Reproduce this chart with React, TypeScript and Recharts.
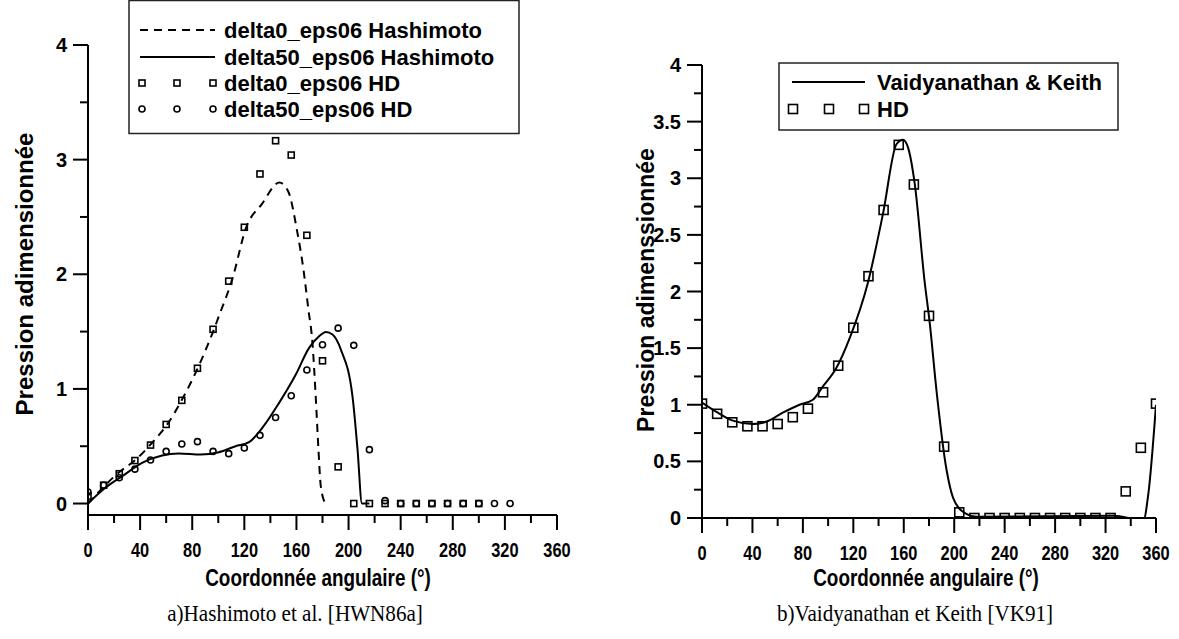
import React from 'react';
import { ComposedChart, Line, Scatter, XAxis, YAxis } from 'recharts';

// ---------- axes ----------
const angleTicks = [0, 20, 40, 60, 80, 100, 120, 140, 160, 180, 200, 220, 240, 260, 280, 300, 320, 340, 360];
const leftPressureTicks = [0, 0.5, 1, 1.5, 2, 2.5, 3, 3.5, 4];
const rightPressureTicks = [0, 0.25, 0.5, 0.75, 1, 1.25, 1.5, 1.75, 2, 2.25, 2.5, 2.75, 3, 3.25, 3.5, 3.75, 4];

// ---------- a) Hashimoto ----------
const delta0HashimotoAngle = [0, 23.6, 36.4, 49.2, 60.8, 72.3, 83.8, 96.7, 101.3, 110.3, 121.8, 133.3, 146.9, 153.8, 160.3, 165.4, 169.2, 172.3, 174.9, 176.9, 178.7, 182.6];
const delta0HashimotoPressure = [0, 0.27, 0.38, 0.53, 0.69, 0.91, 1.17, 1.52, 1.66, 1.94, 2.42, 2.61, 2.8, 2.72, 2.39, 2.04, 1.69, 1.4, 0.91, 0.47, 0.15, -0.01];

const delta50HashimotoAngle = [0, 13.3, 26.2, 41.5, 56.9, 69.7, 86.4, 100.5, 113.3, 123.6, 133.8, 146.7, 159.5, 169.7, 177.4, 182.6, 187.7, 194.1, 203, 206.9, 210.3, 216];
const delta50HashimotoPressure = [0, 0.137, 0.238, 0.355, 0.419, 0.436, 0.427, 0.448, 0.5, 0.535, 0.66, 0.878, 1.125, 1.358, 1.459, 1.497, 1.474, 1.343, 0.936, 0.471, 0, 0];

const delta0HdAngle = [0, 12, 24, 36, 48, 60, 72, 84, 96, 108, 120, 132, 144, 156, 168, 180, 192, 204, 216, 228, 240, 252, 264, 276, 288, 300];
const delta0HdPressure = [0.065, 0.16, 0.26, 0.375, 0.51, 0.69, 0.9, 1.18, 1.52, 1.94, 2.41, 2.875, 3.165, 3.04, 2.34, 1.245, 0.32, 0, 0, 0, 0, 0, 0, 0, 0, 0];

const delta50HdAngle = [0, 12, 24, 36, 48, 60, 72, 84, 96, 108, 120, 132, 144, 156, 168, 180, 192, 204, 216, 228, 240, 252, 264, 276, 288, 300, 312, 324];
const delta50HdPressure = [0.1, 0.16, 0.225, 0.3, 0.38, 0.455, 0.52, 0.54, 0.455, 0.435, 0.485, 0.595, 0.75, 0.94, 1.165, 1.385, 1.53, 1.38, 0.47, 0.025, 0, 0, 0, 0, 0, 0, 0, 0];

// ---------- b) Vaidyanathan & Keith ----------
const vkAngle = [0, 11.1, 24.4, 40.3, 50.8, 64.1, 77.3, 87.9, 95.9, 106.5, 117.1, 131.6, 143.5, 154.2, 159.4, 163.4, 168.7, 176.6, 180.6, 185.9, 193.9, 199.2, 208.4, 217.7, 326, 350, 354, 360];
const vkPressure = [1.02, 0.94, 0.86, 0.83, 0.85, 0.93, 1.0, 1.044, 1.162, 1.324, 1.588, 2.08, 2.685, 3.3, 3.34, 3.27, 2.95, 2.08, 1.72, 1.13, 0.426, 0.176, 0.044, 0.01, 0.02, -0.02, 0.22, 1.0];

const hdRightAngle = [0, 12, 24, 36, 48, 60, 72, 84, 96, 108, 120, 132, 144, 156, 168, 180, 192, 204, 216, 228, 240, 252, 264, 276, 288, 300, 312, 324, 336, 348, 360];
const hdRightPressure = [1.01, 0.92, 0.845, 0.81, 0.81, 0.83, 0.89, 0.965, 1.11, 1.345, 1.68, 2.135, 2.72, 3.295, 2.945, 1.785, 0.63, 0.05, 0, 0, 0, 0, 0, 0, 0, 0, 0, 0, 0.235, 0.62, 1.01];

const zip = (xs: number[], ys: number[]) => xs.map((x, i) => ({ x, y: ys[i] }));

const FONT = '"Liberation Sans", Arial, Helvetica, sans-serif';
const SERIF = '"Liberation Serif", "Times New Roman", serif';

const XTick = (props: any) => {
  const { x, y, payload } = props;
  const v = payload.value;
  const major = v % 40 === 0;
  return (
    <g transform={`translate(${x},${y})`}>
      <line x1={0} y1={0} x2={0} y2={major ? 15 : 8} stroke="#000" strokeWidth={2} />
      {major && (
        <text x={0} y={42} textAnchor="middle" transform="scale(0.78,1)" fontFamily={FONT} fontWeight="bold" fontSize={21} fill="#000">
          {v}
        </text>
      )}
    </g>
  );
};

const makeYTick = (step: number) => (props: any) => {
  const { x, y, payload } = props;
  const v = payload.value;
  const r = v / step;
  const major = Math.abs(r - Math.round(r)) < 1e-6;
  return (
    <g transform={`translate(${x},${y})`}>
      <line x1={0} y1={0} x2={major ? -15 : -8} y2={0} stroke="#000" strokeWidth={2} />
      {major && (
        <text x={-21} y={7} textAnchor="end" fontFamily={FONT} fontWeight="bold" fontSize={20} fill="#000">
          {v}
        </text>
      )}
    </g>
  );
};

const squareShape = (size: number) => (p: any) => (
  <rect x={p.cx - size / 2} y={p.cy - size / 2} width={size} height={size} fill="none" stroke="#000" strokeWidth={1.6} />
);
const circleShape = (r: number) => (p: any) => (
  <circle cx={p.cx} cy={p.cy} r={r} fill="none" stroke="#000" strokeWidth={1.6} />
);

const axisLine = { stroke: '#000', strokeWidth: 2 };

const textAbs = (left: number, top: number, extra: React.CSSProperties = {}): React.CSSProperties => ({
  position: 'absolute',
  left,
  top,
  whiteSpace: 'nowrap',
  color: '#000',
  ...extra,
});

export default function App() {
  return (
    <div style={{ position: 'absolute', left: 0, top: 0, width: 1179, height: 639, background: '#fff', overflow: 'hidden' }}>
      {/* ---------- left chart ---------- */}
      <div style={{ position: 'absolute', left: 0, top: 0 }}>
        <ComposedChart width={590} height={639} margin={{ top: 45, right: 33, bottom: 84, left: 28 }}>
          <XAxis type="number" dataKey="x" domain={[0, 360]} ticks={angleTicks} interval={0} allowDataOverflow
            tickSize={0} tickMargin={0} tickLine={false} axisLine={axisLine} tick={XTick} height={40} />
          <YAxis type="number" domain={[-0.1, 4]} ticks={leftPressureTicks} interval={0} allowDataOverflow
            tickSize={0} tickMargin={0} tickLine={false} axisLine={axisLine} tick={makeYTick(1)} width={60} />
          <Line data={zip(delta0HashimotoAngle, delta0HashimotoPressure)} dataKey="y" type="monotone" stroke="#000"
            strokeWidth={2} strokeDasharray="8 6" dot={false} isAnimationActive={false} />
          <Line data={zip(delta50HashimotoAngle, delta50HashimotoPressure)} dataKey="y" type="monotone" stroke="#000"
            strokeWidth={2} dot={false} isAnimationActive={false} />
          <Scatter data={zip(delta0HdAngle, delta0HdPressure)} dataKey="y" shape={squareShape(6)} isAnimationActive={false} />
          <Scatter data={zip(delta50HdAngle, delta50HdPressure)} dataKey="y" shape={circleShape(3)} isAnimationActive={false} />
        </ComposedChart>
      </div>

      {/* ---------- right chart ---------- */}
      <div style={{ position: 'absolute', left: 600, top: 0 }}>
        <ComposedChart width={579} height={639} margin={{ top: 65, right: 23, bottom: 81, left: 42 }}>
          <XAxis type="number" dataKey="x" domain={[0, 360]} ticks={angleTicks} interval={0} allowDataOverflow
            tickSize={0} tickMargin={0} tickLine={false} axisLine={axisLine} tick={XTick} height={40} />
          <YAxis type="number" domain={[0, 4]} ticks={rightPressureTicks} interval={0} allowDataOverflow
            tickSize={0} tickMargin={0} tickLine={false} axisLine={axisLine} tick={makeYTick(0.5)} width={60} />
          <Line data={zip(vkAngle, vkPressure)} dataKey="y" type="monotone" stroke="#000" strokeWidth={2} dot={false}
            isAnimationActive={false} />
          <Scatter data={zip(hdRightAngle, hdRightPressure)} dataKey="y" shape={squareShape(9)} isAnimationActive={false} />
        </ComposedChart>
      </div>

      {/* ---------- left legend ---------- */}
      <svg style={{ position: 'absolute', left: 128, top: 0 }} width={393} height={135}>
        <rect x={1} y={0.5} width={390} height={133} fill="#fff" stroke="#222" strokeWidth={1.5} />
        <line x1={12} x2={87} y1={30} y2={30} stroke="#000" strokeWidth={2} strokeDasharray="8 6" />
        <line x1={12} x2={87} y1={57} y2={57} stroke="#000" strokeWidth={2} />
        {[14, 49, 85].map((cx) => (
          <rect key={'s' + cx} x={cx - 3} y={80} width={6} height={6} fill="none" stroke="#000" strokeWidth={1.6} />
        ))}
        {[14, 49, 85].map((cx) => (
          <circle key={'c' + cx} cx={cx} cy={109} r={3} fill="none" stroke="#000" strokeWidth={1.6} />
        ))}
        <g fontFamily={FONT} fontWeight="bold" fontSize={22} fill="#000">
          <text x={96} y={38}>delta0_eps06 Hashimoto</text>
          <text x={96} y={65}>delta50_eps06 Hashimoto</text>
          <text x={96} y={91}>delta0_eps06 HD</text>
          <text x={96} y={117}>delta50_eps06 HD</text>
        </g>
      </svg>

      {/* ---------- right legend ---------- */}
      <svg style={{ position: 'absolute', left: 778, top: 62 }} width={342} height={70}>
        <rect x={1} y={1} width={339} height={67} fill="#fff" stroke="#222" strokeWidth={1.5} />
        <line x1={14} x2={87} y1={20} y2={20} stroke="#000" strokeWidth={2} />
        {[15, 51, 86].map((cx) => (
          <rect key={cx} x={cx - 4.5} y={42.5} width={9} height={9} fill="none" stroke="#000" strokeWidth={1.6} />
        ))}
        <g fontFamily={FONT} fontWeight="bold" fontSize={22} fill="#000">
          <text x={99} y={28}>Vaidyanathan &amp; Keith</text>
          <text x={99} y={55}>HD</text>
        </g>
      </svg>

      {/* ---------- axis titles ---------- */}
      <div style={textAbs(25, 274, { transform: 'translate(-50%,-50%) rotate(-90deg)', font: `bold 24px ${FONT}` })}>
        Pression adimensionnée
      </div>
      <div style={textAbs(646, 290, { transform: 'translate(-50%,-50%) rotate(-90deg)', font: `bold 23px ${FONT}` })}>
        Pression adimenssionnée
      </div>
      <div style={textAbs(318, 578, { transform: 'translate(-50%,-50%) scaleX(0.82)', font: `bold 23px ${FONT}` })}>
        Coordonnée angulaire (°)
      </div>
      <div style={textAbs(926, 578, { transform: 'translate(-50%,-50%) scaleX(0.82)', font: `bold 23px ${FONT}` })}>
        Coordonnée angulaire (°)
      </div>

      {/* ---------- captions ---------- */}
      <div style={textAbs(295, 613, { transform: 'translate(-50%,-50%) scaleX(0.88)', font: `24px ${SERIF}` })}>
        a)Hashimoto et al. [HWN86a]
      </div>
      <div style={textAbs(915, 613, { transform: 'translate(-50%,-50%) scaleX(0.88)', font: `24px ${SERIF}` })}>
        b)Vaidyanathan et Keith [VK91]
      </div>
    </div>
  );
}
